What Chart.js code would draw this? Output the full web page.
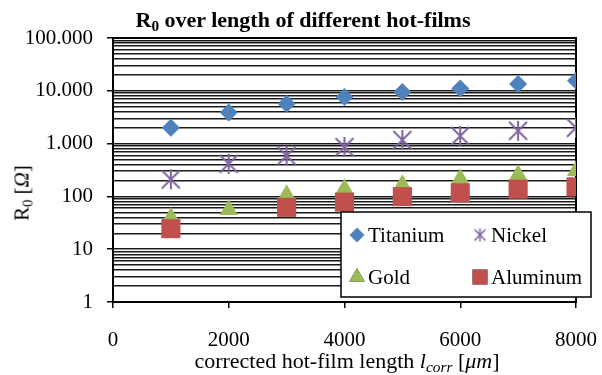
<!DOCTYPE html>
<html>
<head>
<meta charset="utf-8">
<script src="https://cdn.jsdelivr.net/npm/chart.js@4.4.1/dist/chart.umd.min.js"></script>
<style>
  body { margin: 0; background: #fff; }
  #wrap { position: relative; width: 602px; height: 375px; font-family: "Liberation Serif", "Times New Roman", serif; color: #000; }
  #wrap canvas { position: absolute; left: 0; top: 0; }
  .lbl { position: absolute; white-space: nowrap; line-height: 1; transform: translate(-50%, -50%); }
  .lbl sub { font-size: 70%; vertical-align: -0.25em; line-height: 0; }
  #title { left: 303px; top: 20px; font-size: 22px; font-weight: bold; }
  #xtitle { left: 347px; top: 361px; font-size: 22px; }
  #ytitle { left: 22px; top: 193px; font-size: 21px; transform: translate(-50%, -50%) rotate(-90deg); }
</style>
</head>
<body>
<div id="wrap">
  <canvas id="chart" width="602" height="375"></canvas>
  <div class="lbl" id="title">R<sub>0</sub> over length of different hot-films</div>
  <div class="lbl" id="xtitle">corrected hot-film length <i>l<sub>corr</sub></i> [<i>μm</i>]</div>
  <div class="lbl" id="ytitle">R<sub>0</sub> [<i>Ω</i>]</div>
</div>
<script>
const lengths   = [1000, 2000, 3000, 4000, 5000, 6000, 7000, 8000];
const titanium  = [2000, 3900, 5700, 7600, 9500, 11000, 13500, 15500];
const nickel    = [210, 415, 590, 860, 1170, 1400, 1750, 2000];
const gold      = [40, 56, 108, 140, 167, 215, 258, 305];
const aluminum  = [24.5, null, 62, 78, 99, 117, 137, 152];

const decades   = [1, 10, 100, 1000, 10000, 100000];
const xTicks    = [0, 2000, 4000, 6000, 8000];

const colors = {
  Titanium: "#4F81BD",
  Nickel:   "#8064A2",
  Gold:     "#9BBB59",
  Aluminum: "#C0504D"
};

// asterisk marker like Excel's (X with a vertical bar)
function starMarker(size, lw) {
  const c = document.createElement("canvas");
  c.width = size; c.height = size;
  const g = c.getContext("2d");
  g.strokeStyle = colors.Nickel;
  g.lineWidth = lw;
  const p = 2, s = size - 2;
  g.beginPath();
  g.moveTo(p, p); g.lineTo(s, s);
  g.moveTo(s, p); g.lineTo(p, s);
  g.moveTo(size / 2, 1); g.lineTo(size / 2, size - 1);
  g.stroke();
  return c;
}
const nickelStar = starMarker(22, 2);
const nickelStarSmall = starMarker(15, 1.6);

// every 1..9 x 10^k for the grid
const yGrid = [];
decades.slice(0, -1).forEach(d => { for (let m = 1; m < 10; m++) yGrid.push(d * m); });
yGrid.push(decades[decades.length - 1]);

const fmt = v => String(v).replace(/\B(?=(\d{3})+(?!\d))/g, ".");
const toPts = arr => lengths.map((x, i) => ({ x, y: arr[i] }));
const serif = "'Liberation Serif', 'Times New Roman', serif";
const tickFont = { family: serif, size: 21 };

const series = [
  { label: "Titanium", data: titanium, style: "rectRot",  radius: 9,    order: 4 },
  { label: "Nickel",   data: nickel,   style: nickelStar, radius: 11,   order: 3 },
  { label: "Gold",     data: gold,     style: "triangle", radius: 10.5, order: 2 },
  { label: "Aluminum", data: aluminum, style: "rect",     radius: 13.5, order: 1 }
];

const legendItems = [
  { label: "Titanium", style: "rectRot",        radius: 7.5, col: 0, row: 0 },
  { label: "Nickel",   style: nickelStarSmall,  radius: 7,   col: 1, row: 0 },
  { label: "Gold",     style: "triangle",       radius: 9,   col: 0, row: 1 },
  { label: "Aluminum", style: "rect",           radius: 10.5, col: 1, row: 1 }
];

// box round the plot, under the markers
const frame = {
  id: "frame",
  beforeDatasetsDraw(chart) {
    const { ctx, chartArea: a } = chart;
    ctx.save();
    ctx.strokeStyle = "#000";
    ctx.lineWidth = 2;
    ctx.strokeRect(a.left, a.top, a.right - a.left, a.bottom - a.top);
    ctx.restore();
  }
};

// legend box inside the plot, two columns
const boxLegend = {
  id: "boxLegend",
  afterDraw(chart) {
    const ctx = chart.ctx;
    const box = { x: 341, y: 212, w: 250, h: 85 };
    ctx.save();
    ctx.fillStyle = "#fff";
    ctx.fillRect(box.x, box.y, box.w, box.h);
    ctx.strokeStyle = "#000";
    ctx.lineWidth = 1.5;
    ctx.strokeRect(box.x, box.y, box.w, box.h);
    ctx.font = "21px " + serif;
    ctx.textBaseline = "middle";
    legendItems.forEach(it => {
      const mx = box.x + 16 + it.col * 123;
      const my = box.y + 23 + it.row * 42;
      Chart.helpers.drawPoint(ctx, {
        pointStyle: it.style, radius: it.radius, rotation: 0, borderWidth: 0
      }, mx, my);
      if (typeof it.style === "string") {
        ctx.fillStyle = colors[it.label];
        ctx.fill();
      }
      ctx.fillStyle = "#000";
      ctx.fillText(it.label, mx + 11, my + 1);
    });
    ctx.restore();
  }
};

new Chart(document.getElementById("chart"), {
  type: "scatter",
  data: {
    datasets: series.map(s => ({
      label: s.label,
      data: toPts(s.data),
      order: s.order,
      showLine: false,
      pointStyle: s.style,
      pointRadius: s.radius,
      pointHoverRadius: s.radius,
      pointBackgroundColor: colors[s.label],
      pointBorderColor: colors[s.label],
      pointBorderWidth: 0
    }))
  },
  options: {
    responsive: false,
    devicePixelRatio: 1,
    animation: false,
    layout: { padding: { left: 0, right: 26, top: 38, bottom: 0 } },
    plugins: {
      legend: { display: false },
      tooltip: { enabled: false }
    },
    scales: {
      x: {
        type: "linear",
        min: 0,
        max: 8000,
        afterBuildTicks: scale => { scale.ticks = xTicks.map(v => ({ value: v })); },
        afterFit: scale => {
          scale.height = 73;
          scale.paddingLeft = 0;
          scale.paddingRight = 0;
        },
        ticks: {
          color: "#000",
          padding: 20,
          font: tickFont,
          maxRotation: 0,
          callback: v => String(v)
        },
        grid: { drawOnChartArea: false, color: "#000", tickLength: 6, lineWidth: 1.5 },
        border: { color: "#000", width: 2 }
      },
      y: {
        type: "logarithmic",
        min: 1,
        max: 100000,
        afterBuildTicks: scale => {
          scale.ticks = yGrid.map(v => ({ value: v }));
        },
        afterFit: scale => {
          scale.width = 113;
          scale.paddingTop = 0;
          scale.paddingBottom = 0;
        },
        ticks: {
          autoSkip: false,
          color: "#000",
          padding: 14,
          font: tickFont,
          major: { enabled: false, font: tickFont },
          callback: v => decades.includes(v) ? fmt(v) : ""
        },
        grid: {
          color: "#1a1a1a",
          lineWidth: 1.5,
          tickLength: 6,
          tickColor: c => (c.tick && decades.includes(c.tick.value)) ? "#000" : "rgba(0,0,0,0)"
        },
        border: { color: "#000", width: 2 }
      }
    }
  },
  plugins: [frame, boxLegend]
});
</script>
</body>
</html>
